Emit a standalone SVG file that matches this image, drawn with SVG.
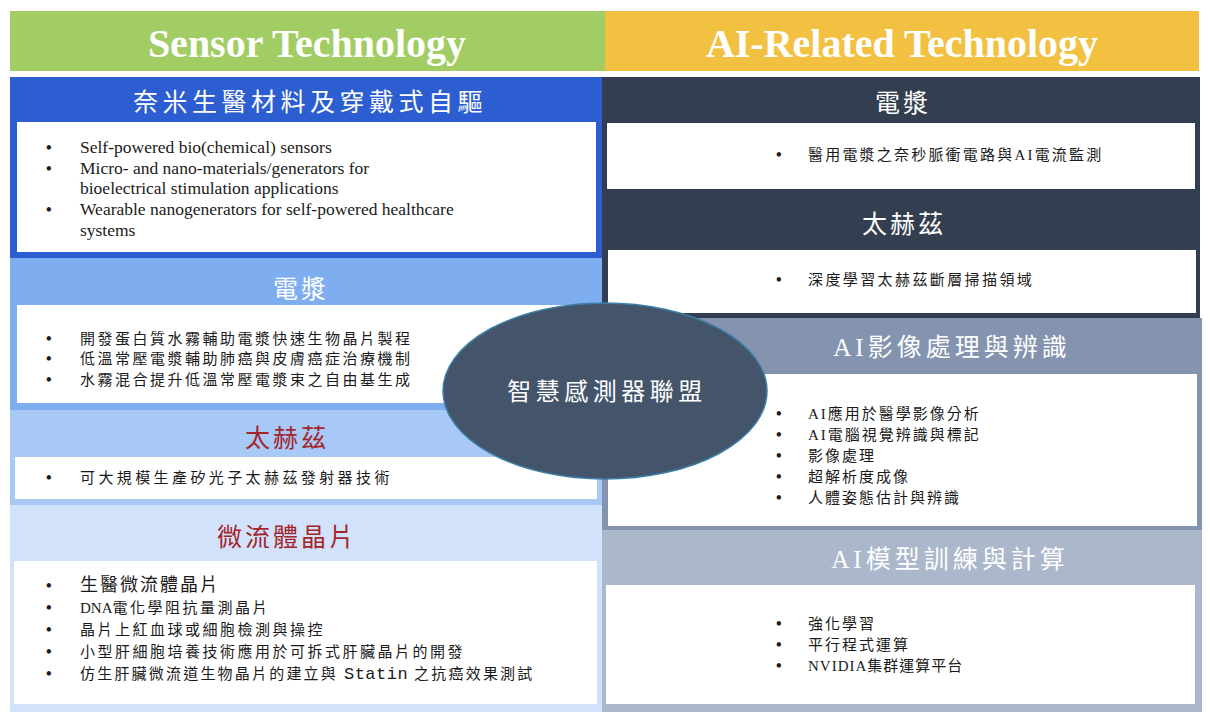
<svg xmlns="http://www.w3.org/2000/svg" width="1210" height="716" viewBox="0 0 1210 716">
<style>
.hdr{font-family:"Liberation Serif",serif;font-weight:bold;font-size:40px;fill:#fff;text-anchor:middle}
.ttl{font-family:"Liberation Serif","Noto Sans CJK TC",serif;font-size:25px;fill:#fff;text-anchor:middle}
.red{fill:#A3252B}
.en{font-family:"Liberation Serif",serif;font-size:17.5px;fill:#1a1a1a}
.cj{font-family:"Liberation Serif","Noto Sans CJK TC",serif;font-size:15px;fill:#1a1a1a}
.bul{font-family:"Liberation Serif",serif;font-size:16px;font-weight:bold;fill:#1a1a1a}
.box{fill:#fff}
</style>
<rect width="1210" height="716" fill="#fff"/>
<g id="header-sensor"><rect x="10" y="11" width="595" height="60" fill="#A1CD64"/><text class="hdr" x="307" y="57">Sensor Technology</text></g>
<g id="header-ai"><rect x="605" y="11" width="594" height="60" fill="#F2C142"/><text class="hdr" x="902" y="57">AI-Related Technology</text></g>

<g id="right-plasma"><rect x="601" y="77" width="599" height="114" fill="#333F50"/>
<text class="ttl" x="903" y="112" font-size="26" letter-spacing="3">電漿</text>
<rect class="box" x="607" y="123" width="588" height="66"/>
<text class="bul" x="776" y="160">•</text>
<text class="cj" x="808" y="160" letter-spacing="2.2">醫用電漿之奈秒脈衝電路與AI電流監測</text></g>

<g id="right-thz"><rect x="601" y="190" width="599" height="129" fill="#333F50"/>
<text class="ttl" x="904" y="233" font-size="26" letter-spacing="3">太赫茲</text>
<rect class="box" x="608" y="250" width="588" height="63"/>
<text class="bul" x="776" y="285">•</text>
<text class="cj" x="808" y="285" letter-spacing="2.4">深度學習太赫茲斷層掃描領域</text></g>

<g id="right-image"><rect x="601" y="318" width="601" height="213" fill="#8494AF"/>
<text class="ttl" x="952" y="356" font-size="27" letter-spacing="4">AI影像處理與辨識</text>
<rect class="box" x="608" y="374" width="589" height="152"/>
<g class="bul"><text x="776" y="419">•</text><text x="776" y="440">•</text><text x="776" y="461">•</text><text x="776" y="482">•</text><text x="776" y="503">•</text></g>
<g class="cj" letter-spacing="2"><text x="808" y="419">AI應用於醫學影像分析</text><text x="808" y="440">AI電腦視覺辨識與標記</text><text x="808" y="461">影像處理</text><text x="808" y="482">超解析度成像</text><text x="808" y="503">人體姿態估計與辨識</text></g></g>

<g id="right-model"><rect x="601" y="530" width="601" height="182" fill="#ABB7CA"/>
<text class="ttl" x="950" y="568" font-size="27" letter-spacing="4">AI模型訓練與計算</text>
<rect class="box" x="606" y="585" width="589" height="119"/>
<g class="bul"><text x="776" y="629">•</text><text x="776" y="650">•</text><text x="776" y="671">•</text></g>
<g class="cj" letter-spacing="2"><text x="808" y="629">強化學習</text><text x="808" y="650">平行程式運算</text><text x="808" y="671" letter-spacing="1">NVIDIA集群運算平台</text></g></g>

<g id="left-nano"><rect x="10" y="77" width="592" height="181" fill="#2C5ED2"/>
<text class="ttl" x="310" y="111" letter-spacing="4.5">奈米生醫材料及穿戴式自驅</text>
<rect class="box" x="17" y="122" width="579" height="130"/>
<g class="bul"><text x="46" y="153">•</text><text x="46" y="174">•</text><text x="46" y="215">•</text></g>
<g class="en"><text x="80" y="153">Self-powered bio(chemical) sensors</text><text x="80" y="174">Micro- and nano-materials/generators for</text><text x="80" y="194">bioelectrical stimulation applications</text><text x="80" y="215">Wearable nanogenerators for self-powered healthcare</text><text x="80" y="236">systems</text></g></g>

<g id="left-plasma"><rect x="10" y="258" width="592" height="152" fill="#7FAEF0"/>
<text class="ttl" x="301" y="298" font-size="26" letter-spacing="3">電漿</text>
<rect class="box" x="17" y="305" width="579" height="98"/>
<g class="bul"><text x="46" y="344">•</text><text x="46" y="364">•</text><text x="46" y="385">•</text></g>
<g class="cj" letter-spacing="2.5"><text x="80" y="344">開發蛋白質水霧輔助電漿快速生物晶片製程</text><text x="80" y="364">低溫常壓電漿輔助肺癌與皮膚癌症治療機制</text><text x="80" y="385">水霧混合提升低溫常壓電漿束之自由基生成</text></g></g>

<g id="left-thz"><rect x="10" y="410" width="592" height="95" fill="#A8C8F5"/>
<text class="ttl red" x="287" y="447" font-size="25" letter-spacing="3">太赫茲</text>
<rect class="box" x="15" y="457" width="582" height="42"/>
<text class="bul" x="46" y="483">•</text>
<text class="cj" x="80" y="483" font-size="17" letter-spacing="3.4">可大規模生產矽光子太赫茲發射器技術</text></g>

<g id="left-micro"><rect x="10" y="505" width="592" height="207" fill="#D2E2FA"/>
<text class="ttl red" x="287" y="546" font-size="25" letter-spacing="3">微流體晶片</text>
<rect class="box" x="14" y="561" width="583" height="143"/>
<g class="bul"><text x="46" y="591">•</text><text x="46" y="613">•</text><text x="46" y="635">•</text><text x="46" y="657">•</text><text x="46" y="679">•</text></g>
<g class="cj" letter-spacing="2.5"><text x="80" y="591" font-size="18" letter-spacing="2">生醫微流體晶片</text><text x="80" y="613"><tspan letter-spacing="0">DNA</tspan>電化學阻抗量測晶片</text><text x="80" y="635">晶片上紅血球或細胞檢測與操控</text><text x="80" y="657">小型肝細胞培養技術應用於可拆式肝臟晶片的開發</text><text x="80" y="679" letter-spacing="2.2">仿生肝臟微流道生物晶片的建立與 <tspan font-family="'Liberation Mono',monospace" font-size="17" letter-spacing="0.5">Statin</tspan> 之抗癌效果測試</text></g></g>

<g id="center-alliance"><ellipse cx="605" cy="391" rx="162" ry="88" fill="#44546A" stroke="#3C7FA6" stroke-width="1.5"/>
<text x="607" y="400" font-family="'Noto Sans CJK TC',sans-serif" font-size="24" letter-spacing="4.5" fill="#fff" text-anchor="middle">智慧感測器聯盟</text></g>
</svg>
